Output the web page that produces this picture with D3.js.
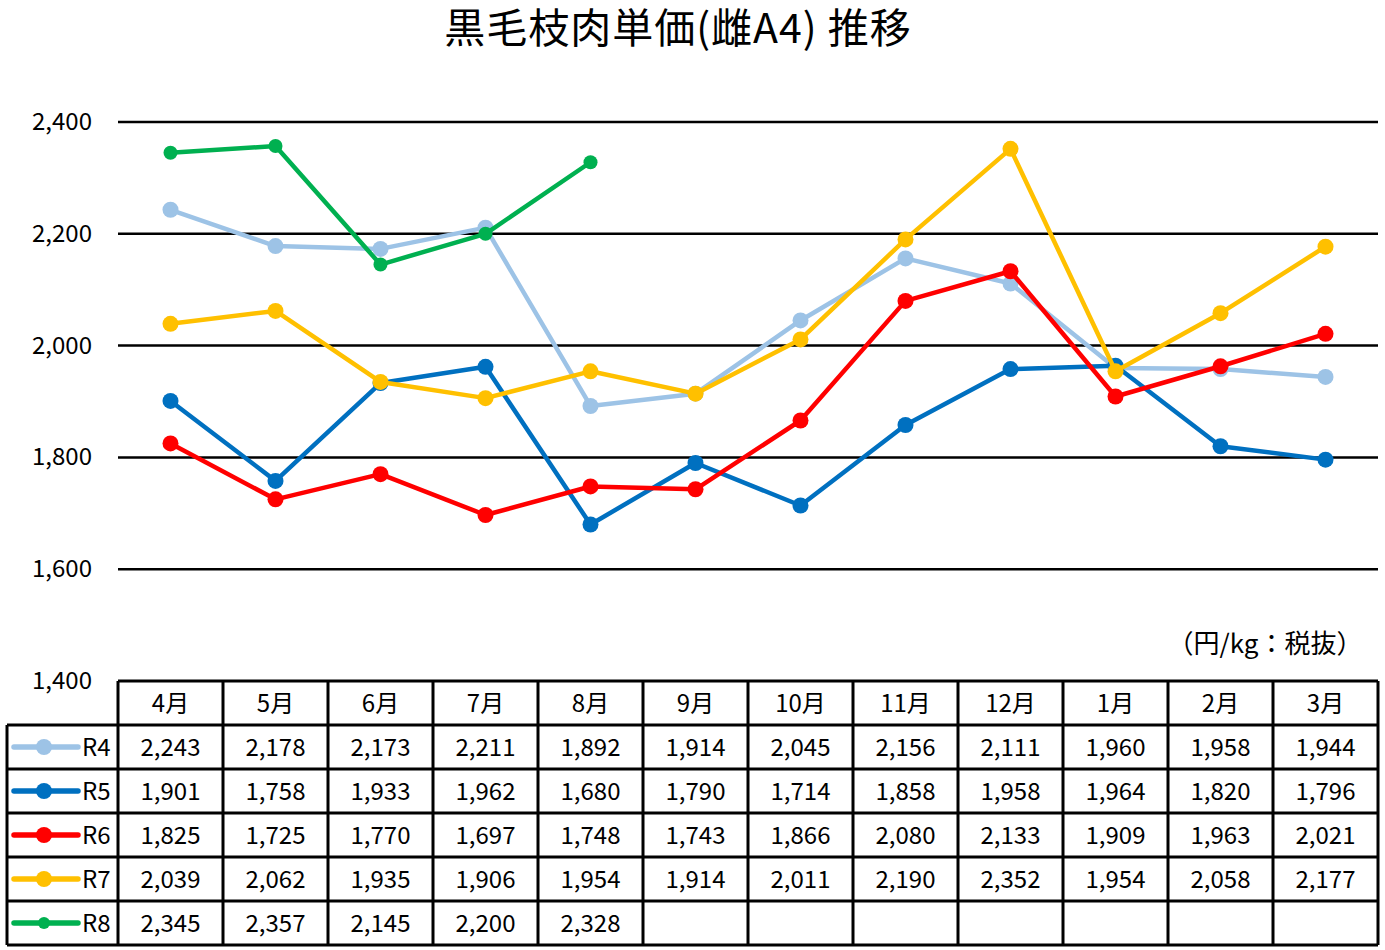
<!DOCTYPE html>
<html><head><meta charset="utf-8">
<script src="https://cdn.jsdelivr.net/npm/d3@7"></script>
<style>body{margin:0;background:#fff}svg{display:block}text{font-family:"Noto Sans CJK JP","Noto Sans",sans-serif;fill:#000}</style>
</head><body>
<svg id="c" width="1385" height="950"></svg>
<script>
const months = ["4月","5月","6月","7月","8月","9月","10月","11月","12月","1月","2月","3月"];
const seriesNames = ["R4","R5","R6","R7","R8"];
const R4 = [2243,2178,2173,2211,1892,1914,2045,2156,2111,1960,1958,1944];
const R5 = [1901,1758,1933,1962,1680,1790,1714,1858,1958,1964,1820,1796];
const R6 = [1825,1725,1770,1697,1748,1743,1866,2080,2133,1909,1963,2021];
const R7 = [2039,2062,1935,1906,1954,1914,2011,2190,2352,1954,2058,2177];
const R8 = [2345,2357,2145,2200,2328];
const colors = ["#9DC3E6","#0070C0","#FF0000","#FFC000","#00B050"];
const yTicks = [1400,1600,1800,2000,2200,2400];
const title = "黒毛枝肉単価(雌A4) 推移";
const unitLabel = "（円/kg：税抜）";

const data = [R4,R5,R6,R7,R8];
const svg = d3.select("#c");
const x = d3.scaleBand().domain(months).range([118,1378]);
const y = d3.scaleLinear().domain([1400,2400]).range([681,122]);
const fmt = d3.format(",");

svg.append("text").attr("x",678).attr("y",43).attr("text-anchor","middle")
  .attr("font-size",41).attr("letter-spacing",1).text(title);

svg.selectAll(".grid").data(yTicks.filter(d=>d>1400)).enter().append("line")
  .attr("x1",118).attr("x2",1378).attr("y1",d=>y(d)).attr("y2",d=>y(d))
  .attr("stroke","#000").attr("stroke-width",2.5);
svg.selectAll(".yl").data(yTicks).enter().append("text")
  .attr("x",92).attr("y",d=>y(d)+8).attr("text-anchor","end").attr("font-size",24)
  .text(d=>fmt(d));

svg.append("text").attr("x",1265).attr("y",653).attr("text-anchor","middle")
  .attr("font-size",26).text(unitLabel);

const line = d3.line().x((d,i)=>x(months[i])+x.bandwidth()/2).y(d=>y(d));
data.forEach((s,k)=>{
  const g = svg.append("g");
  g.append("path").attr("d",line(s)).attr("fill","none").attr("stroke",colors[k])
    .attr("stroke-width",4.5).attr("stroke-linejoin","round");
  g.selectAll("circle").data(s).enter().append("circle")
    .attr("cx",(d,i)=>x(months[i])+x.bandwidth()/2).attr("cy",d=>y(d))
    .attr("r",k===4?7:8).attr("fill",colors[k]);
});

const rowH = 44;
const top0 = 681;
const tg = svg.append("g");
months.forEach((m,i)=>{
  tg.append("text").attr("x",x(m)+x.bandwidth()/2).attr("y",top0+rowH/2+9)
    .attr("text-anchor","middle").attr("font-size",24).text(m);
});
data.forEach((s,k)=>{
  const cy = top0+rowH*(k+1)+rowH/2;
  tg.append("line").attr("x1",14).attr("x2",78).attr("y1",cy).attr("y2",cy)
    .attr("stroke",colors[k]).attr("stroke-width",5.5).attr("stroke-linecap","round");
  tg.append("circle").attr("cx",44).attr("cy",cy).attr("r",k===4?6:8).attr("fill",colors[k]);
  tg.append("text").attr("x",82).attr("y",cy+9).attr("font-size",24).text(seriesNames[k]);
  s.forEach((v,i)=>{
    tg.append("text").attr("x",x(months[i])+x.bandwidth()/2).attr("y",cy+9)
      .attr("text-anchor","middle").attr("font-size",24).text(fmt(v));
  });
});
const bottom = top0+rowH*6;
const sw=3;
tg.append("line").attr("x1",118).attr("x2",1378).attr("y1",top0).attr("y2",top0).attr("stroke","#000").attr("stroke-width",sw);
for(let r=1;r<=6;r++){
  tg.append("line").attr("x1",7).attr("x2",1378).attr("y1",top0+rowH*r).attr("y2",top0+rowH*r).attr("stroke","#000").attr("stroke-width",sw);
}
tg.append("line").attr("x1",7).attr("x2",7).attr("y1",top0+rowH).attr("y2",bottom).attr("stroke","#000").attr("stroke-width",sw);
months.forEach(m=>{
  tg.append("line").attr("x1",x(m)).attr("x2",x(m)).attr("y1",top0).attr("y2",bottom).attr("stroke","#000").attr("stroke-width",sw);
});
tg.append("line").attr("x1",1378).attr("x2",1378).attr("y1",top0).attr("y2",bottom).attr("stroke","#000").attr("stroke-width",sw);
</script>
</body></html>
